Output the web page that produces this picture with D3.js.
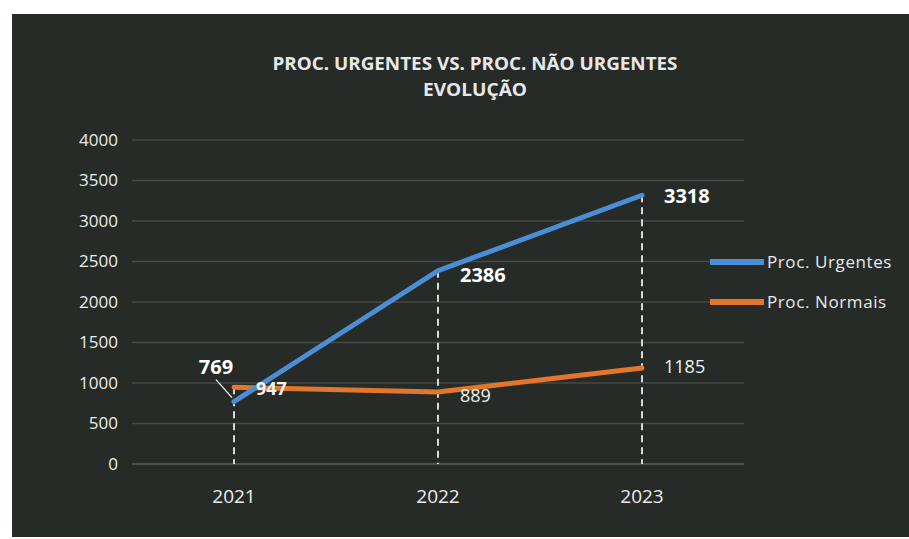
<!DOCTYPE html>
<html lang="en">
<head>
	<meta charset="utf-8">
	<title>Proc. Urgentes vs. Proc. Não Urgentes</title>
	<script src="https://cdn.jsdelivr.net/npm/d3@7"></script>
	<style>
	body {margin: 0; background: #ffffff;}
	svg {display: block;}
	text {font-family: "Open Sans", "DejaVu Sans", sans-serif; fill: #e8e8e8;}
	</style>
</head>
<body>
<div id="chart"></div>
<script>

// Data
var years = ["2021", "2022", "2023"];
var urgentes = [769, 2386, 3318];
var normais = [947, 889, 1185];
var seriesNames = ["Proc. Urgentes", "Proc. Normais"];
var yTicks = [0, 500, 1000, 1500, 2000, 2500, 3000, 3500, 4000];

var width = 909;
var height = 539;

var svg = d3.select("#chart").append("svg")
	.attr("width", width)
	.attr("height", height);

// Dark background panel
svg.append("rect")
	.attr("x", 12).attr("y", 14)
	.attr("width", width - 12).attr("height", height - 16)
	.attr("fill", "#262b28");

// Title
var title = svg.append("text")
	.attr("x", 475).attr("y", 70)
	.attr("text-anchor", "middle")
	.style("font-size", "17px")
	.style("font-weight", "bold");
title.append("tspan").attr("x", 475).attr("dy", 0)
	.attr("textLength", 405).attr("lengthAdjust", "spacingAndGlyphs")
	.text("PROC. URGENTES VS. PROC. NÃO URGENTES");
title.append("tspan").attr("x", 475).attr("dy", 26)
	.attr("textLength", 104).attr("lengthAdjust", "spacingAndGlyphs")
	.text("EVOLUÇÃO");

// Scales
var xScale = d3.scaleBand()
	.domain(years)
	.range([132, 744]);

var yScale = d3.scaleLinear()
	.domain([0, 4000])
	.range([464, 140]);

function xc(d) {return xScale(d) + xScale.bandwidth() / 2;}

// Gridlines
svg.append("g")
	.selectAll("line")
	.data(yTicks)
	.enter()
	.append("line")
		.attr("x1", 132).attr("x2", 744)
		.attr("y1", function(d){return yScale(d);})
		.attr("y2", function(d){return yScale(d);})
		.attr("stroke", function(d){return d === 0 ? "#5a5f5c" : "#454a47";})
		.attr("stroke-width", 1.5);

// Y axis labels
var yAxis = d3.axisLeft(yScale).tickValues(yTicks).tickFormat(d3.format("d")).tickSize(0).tickPadding(0);
var gy = svg.append("g")
	.attr("transform", "translate(118, 0)")
	.call(yAxis);
gy.select(".domain").remove();
gy.selectAll("text")
	.style("font-size", "17px")
	.style("fill", "#ececec");

// X axis labels
var xAxis = d3.axisBottom(xScale).tickSize(0).tickPadding(0);
var gx = svg.append("g")
	.attr("transform", "translate(0, 489)")
	.call(xAxis);
gx.select(".domain").remove();
gx.selectAll("text")
	.style("font-size", "19px")
	.style("fill", "#ececec");

// Drop lines from highest point to axis
svg.append("g")
	.selectAll("line")
	.data(years)
	.enter()
	.append("line")
		.attr("x1", xc).attr("x2", xc)
		.attr("y1", function(d, i){return yScale(Math.max(urgentes[i], normais[i]));})
		.attr("y2", yScale(0))
		.attr("stroke", "#d8d8d8")
		.attr("stroke-width", 2)
		.attr("stroke-dasharray", "7,5");

// Lines
var line = d3.line()
	.x(function(d, i){return xc(years[i]);})
	.y(function(d){return yScale(d);});

svg.append("path")
	.datum(normais)
	.attr("d", line)
	.attr("fill", "none")
	.attr("stroke", "#e2762c")
	.attr("stroke-width", 5)
	.attr("stroke-linecap", "round");

svg.append("path")
	.datum(urgentes)
	.attr("d", line)
	.attr("fill", "none")
	.attr("stroke", "#4a8fd6")
	.attr("stroke-width", 5)
	.attr("stroke-linecap", "round");

// Data labels - urgentes (bold)
var uOff = [[-18, -28], [22, 11], [22, 8]];
svg.append("g")
	.selectAll("text")
	.data(urgentes)
	.enter()
	.append("text")
		.attr("x", function(d, i){return xc(years[i]) + uOff[i][0];})
		.attr("y", function(d, i){return yScale(d) + uOff[i][1];})
		.attr("text-anchor", function(d, i){return i === 0 ? "middle" : "start";})
		.style("font-size", "20px")
		.style("font-weight", "bold")
		.style("fill", "#ffffff")
		.text(function(d){return d;});

// leader line for 769
svg.append("line")
	.attr("x1", xc(years[0]) - 18).attr("y1", yScale(urgentes[0]) - 22)
	.attr("x2", xc(years[0]) - 2).attr("y2", yScale(urgentes[0]) - 4)
	.attr("stroke", "#ffffff")
	.attr("stroke-width", 1.2);

// Data labels - normais
var nOff = [[22, 8], [22, 10], [22, 5]];
svg.append("g")
	.selectAll("text")
	.data(normais)
	.enter()
	.append("text")
		.attr("x", function(d, i){return xc(years[i]) + nOff[i][0];})
		.attr("y", function(d, i){return yScale(d) + nOff[i][1];})
		.style("font-size", "18px")
		.style("font-weight", function(d, i){return i === 0 ? "bold" : "normal";})
		.style("fill", "#f2f2f2")
		.text(function(d){return d;});

// Legend
var legendColors = ["#4a8fd6", "#e2762c"];
var legend = svg.append("g")
	.selectAll("g")
	.data(seriesNames)
	.enter()
	.append("g")
		.attr("transform", function(d, i){return "translate(710, " + (262 + i * 40) + ")";});
legend.append("line")
	.attr("x1", 0).attr("x2", 54)
	.attr("stroke", function(d, i){return legendColors[i];})
	.attr("stroke-width", 6);
legend.append("text")
	.attr("x", 57).attr("y", 6)
	.style("font-size", "17px")
	.style("letter-spacing", "0.6px")
	.text(function(d){return d;});

</script>
</body>
</html>
